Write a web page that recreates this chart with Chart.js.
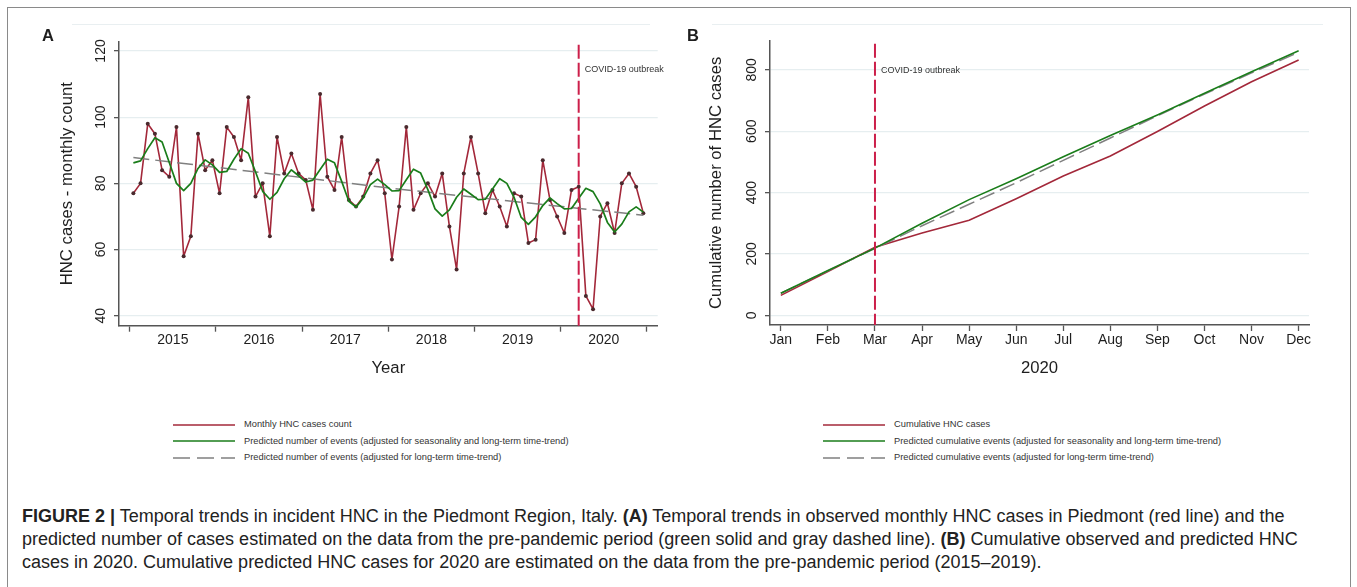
<!DOCTYPE html>
<html>
<head>
<meta charset="utf-8">
<script src="https://cdn.jsdelivr.net/npm/chart.js@4.4.1/dist/chart.umd.min.js"></script>
<style>
  body { margin: 0; background: #fff; }
  #fig { position: relative; width: 1357px; height: 587px; overflow: hidden;
         font-family: "Liberation Sans", Arial, sans-serif; color: #222; }
  #frame { position: absolute; left: 7px; top: 7px; width: 1342px; height: 600px;
           border: 1px solid #8a8a8a; border-bottom: none; }
  .topline { position: absolute; top: 24px; height: 0; border-top: 1px solid #e9eff1; }
  canvas { position: absolute; top: 0; }
  .legend { position: absolute; top: 416px; font-size: 9.3px; color: #333; }
  .legend div { height: 16.5px; line-height: 16px; white-space: nowrap; }
  .legend svg { vertical-align: middle; margin-right: 9px; }
  #caption { position: absolute; left: 22px; top: 505px; font-size: 18px; line-height: 23px;
             color: #222; white-space: nowrap; }
</style>
</head>
<body>
<div id="fig">
  <div id="frame"></div>
  <div class="topline" style="left:72px;width:578px"></div>
  <div class="topline" style="left:712px;width:611px"></div>
  <canvas id="chartA" width="680" height="400" style="left:0"></canvas>
  <canvas id="chartB" width="677" height="400" style="left:680px"></canvas>

  <div class="legend" style="left:173px">
    <div><svg width="62" height="4"><line x1="0" y1="2" x2="62" y2="2" stroke="#a3283a" stroke-width="1.5"/></svg>Monthly HNC cases count</div>
    <div><svg width="62" height="4"><line x1="0" y1="2" x2="62" y2="2" stroke="#1a7d1a" stroke-width="1.5"/></svg>Predicted number of events (adjusted for seasonality and long-term time-trend)</div>
    <div><svg width="62" height="4"><line x1="0" y1="2" x2="62" y2="2" stroke="#808080" stroke-width="1.5" stroke-dasharray="17 7"/></svg>Predicted number of events (adjusted for long-term time-trend)</div>
  </div>
  <div class="legend" style="left:823px">
    <div><svg width="62" height="4"><line x1="0" y1="2" x2="62" y2="2" stroke="#a3283a" stroke-width="1.5"/></svg>Cumulative HNC cases</div>
    <div><svg width="62" height="4"><line x1="0" y1="2" x2="62" y2="2" stroke="#1a7d1a" stroke-width="1.5"/></svg>Predicted cumulative events (adjusted for seasonality and long-term time-trend)</div>
    <div><svg width="62" height="4"><line x1="0" y1="2" x2="62" y2="2" stroke="#808080" stroke-width="1.5" stroke-dasharray="17 7"/></svg>Predicted cumulative events (adjusted for long-term time-trend)</div>
  </div>

  <div id="caption">
    <b>FIGURE 2 |</b> Temporal trends in incident HNC in the Piedmont Region, Italy. <b>(A)</b> Temporal trends in observed monthly HNC cases in Piedmont (red line) and the<br>
    predicted number of cases estimated on the data from the pre-pandemic period (green solid and gray dashed line). <b>(B)</b> Cumulative observed and predicted HNC<br>
    cases in 2020. Cumulative predicted HNC cases for 2020 are estimated on the data from the pre-pandemic period (2015–2019).
  </div>
</div>

<script>
// panel A: monthly counts Jan 2015 - Dec 2020
const years = ["2015", "2016", "2017", "2018", "2019", "2020"];
const monthlyCases = [
  77, 80, 98, 95, 84, 82, 97, 58, 64, 95, 84, 87,
  77, 97, 94, 87, 106, 76, 80, 64, 94, 83, 89, 83,
  81, 72, 107, 82, 78, 94, 75, 73, 76, 83, 87, 77,
  57, 73, 97, 72, 77, 80, 76, 83, 67, 54, 83, 94,
  83, 71, 78, 73, 67, 77, 76, 62, 63, 87, 75, 70,
  65, 78, 79, 46, 42, 70, 74, 65, 80, 83, 79, 71
];
const seasonalPred = [
  86.2, 86.8, 90.5, 93.8, 92.5, 86.3, 80.0, 77.8, 80.0, 84.5, 87.1, 85.6,
  83.3, 83.6, 87.3, 90.5, 89.1, 83.5, 77.6, 75.2, 77.3, 81.4, 84.1, 82.3,
  80.4, 81.0, 84.2, 87.3, 86.2, 80.6, 74.6, 72.8, 75.6, 79.6, 81.3, 79.6,
  77.7, 77.8, 81.1, 84.3, 83.1, 78.1, 72.3, 70.1, 72.0, 75.8, 78.3, 76.7,
  75.1, 75.2, 78.3, 81.4, 80.0, 75.8, 69.7, 67.6, 69.9, 73.3, 75.6, 73.9,
  72.3, 72.4, 75.5, 78.5, 77.5, 73.8, 68.2, 65.3, 67.7, 71.4, 72.9, 71.3
];
const trendMonth = [0, 18, 36, 54, 71];
const trendPred = [87.8, 83.2, 78.5, 74.3, 70.4];
const covidMonthA = 62; // March 2020
const yTicksA = [40, 60, 80, 100, 120];

// panel B: cumulative 2020
const months2020 = ["Jan", "Feb", "Mar", "Apr", "May", "Jun", "Jul", "Aug", "Sep", "Oct", "Nov", "Dec"];
const cumCases = [65, 143, 222, 268, 310, 380, 454, 519, 599, 682, 761, 832];
const cumSeasonal = [72, 146, 219, 300, 377, 445, 517, 586, 653, 724, 794, 862];
const cumTrend = [72, 145, 218, 292, 362, 432, 505, 578, 650, 721, 790, 857];
const covidMonthB = 2;
const yTicksB = [0, 200, 400, 600, 800];

const RED = "#a3283a", GREEN = "#1a7d1a", GRAY = "#808080", COVID = "#cc1f4a";
const AXIS = "#555", GRID = "#e6eef0", TXT = "#1e1e1e";
const FONT = '"Liberation Sans", Arial, sans-serif';

const toXY = (vals, xs) => vals.map((v, i) => ({ x: xs ? xs[i] : i, y: v }));

const panelText = {
  id: "panelText",
  afterDatasetsDraw(chart, args, o) {
    const { ctx, chartArea: a, scales } = chart;
    const px = scales.x.getPixelForValue(o.covidAt);
    ctx.save();
    ctx.strokeStyle = COVID;
    ctx.lineWidth = 2;
    ctx.setLineDash([14, 4]);
    ctx.beginPath();
    ctx.moveTo(px, a.top + 3);
    ctx.lineTo(px, a.bottom);
    ctx.stroke();
    ctx.setLineDash([]);
    ctx.fillStyle = "#333";
    ctx.font = "9px " + FONT;
    ctx.textAlign = "left";
    ctx.textBaseline = "middle";
    ctx.fillText("COVID-19 outbreak", px + 6, o.covidTextY);
    ctx.restore();
  },
  afterDraw(chart, args, o) {
    const { ctx, chartArea: a, scales } = chart;
    const y = scales.y;
    ctx.save();
    ctx.fillStyle = TXT;
    ctx.textAlign = "center";
    ctx.textBaseline = "middle";
    ctx.font = "14px " + FONT;
    y.ticks.forEach(t => {
      ctx.save();
      ctx.translate(a.left - 18, y.getPixelForValue(t.value));
      ctx.rotate(-Math.PI / 2);
      ctx.fillText(String(t.value), 0, 0);
      ctx.restore();
    });
    ctx.font = "16.7px " + FONT;
    ctx.save();
    ctx.translate(o.yTitleX, (a.top + a.bottom) / 2);
    ctx.rotate(-Math.PI / 2);
    ctx.fillText(o.yTitle, 0, 0);
    ctx.restore();
    ctx.fillText(o.xTitle, (a.left + a.right) / 2, 368);
    ctx.font = "bold 16.5px " + FONT;
    ctx.textAlign = "left";
    ctx.fillText(o.letter, o.letterX, 36);
    ctx.restore();
  }
};

function axisX(opts) {
  return Object.assign({
    type: "linear",
    border: { color: AXIS, width: 1.5 },
    grid: { drawOnChartArea: false, tickLength: 6, tickWidth: 1.3, tickColor: AXIS },
    ticks: { autoSkip: false, maxRotation: 0, color: TXT, font: { family: FONT, size: 14 }, padding: 1 }
  }, opts);
}
function axisY(opts, ticks) {
  return Object.assign({
    type: "linear",
    border: { color: AXIS, width: 1.5 },
    grid: { color: GRID, lineWidth: 1.3, tickLength: 5, tickColor: AXIS, tickWidth: 1.3 },
    ticks: { callback: () => "" },
    afterBuildTicks: ax => { ax.ticks = ticks.map(v => ({ value: v })); }
  }, opts);
}

// chart A
const xTickA = [];
years.forEach((yr, i) => { xTickA.push(i * 12 - 0.5, i * 12 + 5.5); });
xTickA.push(years.length * 12 - 0.5);
const isBoundary = v => Math.abs(((v + 0.5) % 12)) < 0.01;

new Chart(document.getElementById("chartA"), {
  type: "line",
  data: {
    datasets: [
      { data: toXY(seasonalPred), borderColor: GREEN, borderWidth: 1.7, pointRadius: 0, tension: 0,
        borderJoinStyle: "round" },
      { data: toXY(trendPred, trendMonth), borderColor: GRAY, borderWidth: 1.5, borderDash: [16, 6], pointRadius: 0, tension: 0 },
      { data: toXY(monthlyCases), borderColor: RED, borderWidth: 1.6, pointRadius: 2, pointBackgroundColor: "#4a2a2e",
        pointBorderWidth: 0, tension: 0, borderJoinStyle: "round" }
    ]
  },
  options: {
    responsive: false, animation: false, devicePixelRatio: 1,
    layout: { padding: { top: 41.7, right: 22.3, left: 0, bottom: 0 } },
    plugins: {
      legend: { display: false }, tooltip: { enabled: false },
      panelText: { covidAt: covidMonthA, covidTextY: 70, yTitle: "HNC cases - monthly count", yTitleX: 67,
                   xTitle: "Year", letter: "A", letterX: 42 }
    },
    scales: {
      x: axisX({
        min: -2, max: 73,
        afterBuildTicks: ax => { ax.ticks = xTickA.map(v => ({ value: v })); },
        afterFit: s => { s.height = 74.3; },
        grid: { drawOnChartArea: false, tickLength: 6, tickWidth: 1.3,
                tickColor: c => (c.tick && isBoundary(c.tick.value)) ? AXIS : "rgba(0,0,0,0)" },
        ticks: { autoSkip: false, maxRotation: 0, color: TXT, font: { family: FONT, size: 14 }, padding: 0,
                 callback: v => isBoundary(v) ? "" : years[Math.round((v - 5.5) / 12)] }
      }),
      y: axisY({ min: 37, max: 122.8, afterFit: s => { s.width = 119; } }, yTicksA)
    }
  },
  plugins: [panelText]
});

// chart B
new Chart(document.getElementById("chartB"), {
  type: "line",
  data: {
    datasets: [
      { data: toXY(cumSeasonal), borderColor: GREEN, borderWidth: 1.6, pointRadius: 0, tension: 0 },
      { data: toXY(cumTrend), borderColor: GRAY, borderWidth: 1.5, borderDash: [16, 6], pointRadius: 0, tension: 0 },
      { data: toXY(cumCases), borderColor: RED, borderWidth: 1.6, pointRadius: 0, tension: 0 }
    ]
  },
  options: {
    responsive: false, animation: false, devicePixelRatio: 1,
    layout: { padding: { top: 40.7, right: 48, left: 0, bottom: 0 } },
    plugins: {
      legend: { display: false }, tooltip: { enabled: false },
      panelText: { covidAt: covidMonthB, covidTextY: 71, yTitle: "Cumulative number of HNC cases", yTitleX: 36.7,
                   xTitle: "2020", letter: "B", letterX: 7 }
    },
    scales: {
      x: axisX({
        min: -0.23, max: 11.22,
        afterBuildTicks: ax => { ax.ticks = months2020.map((m, i) => ({ value: i })); },
        afterFit: s => { s.height = 75; },
        ticks: { autoSkip: false, maxRotation: 0, color: TXT, font: { family: FONT, size: 14 }, padding: 1,
                 callback: v => months2020[Math.round(v)] }
      }),
      y: axisY({ min: -31.6, max: 895, afterFit: s => { s.width = 90; } }, yTicksB)
    }
  },
  plugins: [panelText]
});
</script>
</body>
</html>
